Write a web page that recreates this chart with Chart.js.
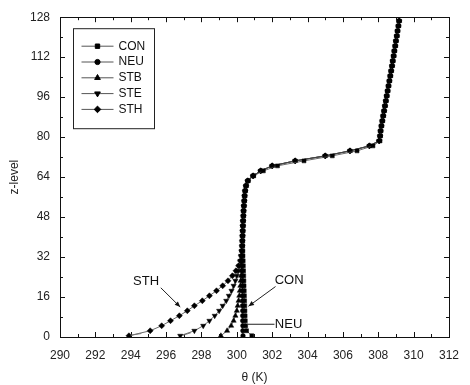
<!DOCTYPE html>
<html>
<head>
<meta charset="utf-8">
<script src="https://cdn.jsdelivr.net/npm/chart.js@4/dist/chart.umd.min.js"></script>
<style>
html,body{margin:0;padding:0;background:#fff;}
canvas{display:block;}
</style>
</head>
<body>
<canvas id="c" width="470" height="385"></canvas>
<script>
// vertical model levels (z-level of each plotted point)
const zLevels = [0.5,2.5,4.5,6.5,8.5,10.5,12.5,14.5,16.5,18.5,20.5,22.5,24.5,26.5,28.5,30.5,32.5,34.5,
  36.5,38.5,40.5,42.5,44.5,46.5,48.5,50.5,52.5,54.5,56.5,58.5,60.5,62.5,64.5,66.5,68.5,70.5,72.5,74.5,76.5,78.5,
  80.5,82.5,84.5,86.5,88.5,90.5,92.5,94.5,96.5,98.5,100.5,102.5,104.5,106.5,108.5,110.5,112.5,114.5,116.5,118.5,120.5,122.5,124.5,126.5];

// potential temperature theta (K) for each case
const thetaCON = [300.85,300.55,300.50,300.48,300.47,300.46,300.45,300.44,300.43,300.42,300.41,300.40,300.39,300.38,300.37,300.36,300.35,300.34,
  300.33,300.33,300.34,300.35,300.36,300.37,300.38,300.39,300.41,300.43,300.45,300.48,300.53,300.64,300.95,301.50,302.30,303.80,305.40,306.80,307.70,308.10,
  308.12,308.14,308.18,308.23,308.28,308.33,308.38,308.43,308.48,308.53,308.58,308.63,308.68,308.73,308.78,308.82,308.87,308.91,308.96,309.00,309.05,309.09,309.14,309.18];
const thetaNEU = [300.35,300.34,300.34,300.33,300.33,300.33,300.32,300.32,300.32,300.31,300.31,300.31,300.30,300.30,300.30,300.30,300.30,300.30,
  300.30,300.31,300.32,300.33,300.34,300.35,300.37,300.38,300.40,300.42,300.44,300.47,300.52,300.62,300.92,301.35,302.00,303.30,305.00,306.40,307.50,308.05,
  308.10,308.13,308.18,308.23,308.28,308.33,308.38,308.43,308.48,308.53,308.58,308.63,308.68,308.73,308.78,308.82,308.87,308.91,308.96,309.00,309.05,309.09,309.14,309.18];
const thetaSTB = [299.10,299.45,299.68,299.82,299.92,300.00,300.05,300.10,300.14,300.17,300.20,300.22,300.24,300.25,300.26,300.27,300.28,300.29,
  300.30,300.31,300.32,300.33,300.34,300.35,300.37,300.38,300.40,300.42,300.44,300.47,300.52,300.62,300.92,301.35,302.00,303.30,305.00,306.40,307.50,308.05,
  308.10,308.13,308.18,308.23,308.28,308.33,308.38,308.43,308.48,308.53,308.58,308.63,308.68,308.73,308.78,308.82,308.87,308.91,308.96,309.00,309.05,309.09,309.14,309.18];
const thetaSTE = [296.80,297.60,298.10,298.45,298.75,299.00,299.20,299.40,299.55,299.70,299.82,299.92,300.00,300.08,300.14,300.20,300.24,300.27,
  300.30,300.31,300.32,300.33,300.34,300.35,300.37,300.38,300.40,300.42,300.44,300.47,300.52,300.62,300.92,301.35,302.00,303.30,305.00,306.40,307.50,308.05,
  308.10,308.13,308.18,308.23,308.28,308.33,308.38,308.43,308.48,308.53,308.58,308.63,308.68,308.73,308.78,308.82,308.87,308.91,308.96,309.00,309.05,309.09,309.14,309.18];
const thetaSTH = [293.90,295.10,295.75,296.25,296.75,297.20,297.60,298.05,298.45,298.85,299.20,299.50,299.75,299.95,300.10,300.20,300.25,300.28,
  300.30,300.31,300.32,300.33,300.34,300.35,300.37,300.38,300.40,300.42,300.44,300.47,300.52,300.62,300.92,301.35,302.00,303.30,305.00,306.40,307.50,308.05,
  308.10,308.13,308.18,308.23,308.28,308.33,308.38,308.43,308.48,308.53,308.58,308.63,308.68,308.73,308.78,308.82,308.87,308.91,308.96,309.00,309.05,309.09,309.14,309.18];

const seriesNames = ['CON','NEU','STB','STE','STH'];
const seriesTheta = [thetaCON, thetaNEU, thetaSTB, thetaSTE, thetaSTH];
const markerStyles = ['rect','circle','triangle','triangle','rectRot'];
const markerRot = [0,0,0,180,0];
const markerRadius = [2.8,2.3,3,3,3];

const xTickMin = 290, xTickMax = 312, xTickStep = 2;
const yTickMin = 0, yTickMax = 128, yTickStep = 16;

const FONT = '"Liberation Sans", Arial, sans-serif';

const datasets = seriesNames.map((name, s) => ({
  label: name,
  data: zLevels.map((z, i) => ({x: seriesTheta[s][i], y: z})),
  showLine: true,
  borderColor: '#444',
  borderWidth: 0.8,
  backgroundColor: '#000',
  pointBackgroundColor: '#000',
  pointBorderColor: '#000',
  pointBorderWidth: 0.5,
  pointStyle: markerStyles[s],
  pointRotation: markerRot[s],
  pointRadius: markerRadius[s],
  pointHoverRadius: markerRadius[s]
}));

function arrow(ctx, x1, y1, x2, y2) {
  ctx.beginPath(); ctx.moveTo(x1, y1); ctx.lineTo(x2, y2); ctx.stroke();
  const ang = Math.atan2(y2 - y1, x2 - x1), L = 6, W = 0.4;
  ctx.beginPath();
  ctx.moveTo(x2, y2);
  ctx.lineTo(x2 - L * Math.cos(ang - W), y2 - L * Math.sin(ang - W));
  ctx.lineTo(x2 - L * Math.cos(ang + W), y2 - L * Math.sin(ang + W));
  ctx.closePath(); ctx.fill();
}

const framePlugin = {
  id: 'frame',
  afterDraw(chart) {
    const {ctx, chartArea: a, scales: {x, y}} = chart;
    ctx.save();
    ctx.strokeStyle = '#111';
    ctx.fillStyle = '#111';
    ctx.lineWidth = 1;
    ctx.strokeRect(Math.round(a.left) + 0.5, Math.round(a.top) + 0.5, Math.round(a.right - a.left), Math.round(a.bottom - a.top));
    // inward ticks
    for (let v = xTickMin; v <= xTickMax; v += xTickStep / 2) {
      const px = Math.round(x.getPixelForValue(v)) + 0.5;
      const len = ((v - xTickMin) % xTickStep === 0) ? 5 : 3;
      ctx.beginPath();
      ctx.moveTo(px, a.bottom); ctx.lineTo(px, a.bottom - len);
      ctx.moveTo(px, a.top); ctx.lineTo(px, a.top + len);
      ctx.stroke();
    }
    for (let v = yTickMin; v <= yTickMax; v += yTickStep / 2) {
      const py = Math.round(y.getPixelForValue(v)) + 0.5;
      const len = ((v - yTickMin) % yTickStep === 0) ? 5 : 3;
      ctx.beginPath();
      ctx.moveTo(a.left, py); ctx.lineTo(a.left + len, py);
      ctx.moveTo(a.right, py); ctx.lineTo(a.right - len, py);
      ctx.stroke();
    }
    // axis titles
    ctx.fillStyle = '#222';
    ctx.font = '12px ' + FONT;
    ctx.textAlign = 'center';
    ctx.textBaseline = 'middle';
    ctx.fillText('\u03B8 (K)', (a.left + a.right) / 2, a.bottom + 41);
    ctx.save();
    ctx.translate(a.left - 45, (a.top + a.bottom) / 2);
    ctx.rotate(-Math.PI / 2);
    ctx.fillText('z-level', 0, 0);
    ctx.restore();

    // annotations (data coordinates)
    const X = v => x.getPixelForValue(v), Y = v => y.getPixelForValue(v);
    ctx.font = '13px ' + FONT;
    ctx.fillStyle = '#111';
    ctx.strokeStyle = '#222';
    ctx.lineWidth = 1;
    ctx.fillText('STH', X(294.87), Y(22.3));
    arrow(ctx, X(295.7), Y(19.7), X(296.8), Y(12.0));
    ctx.fillText('CON', X(302.96), Y(22.6));
    arrow(ctx, X(302.19), Y(20.2), X(300.66), Y(12.3));
    ctx.textAlign = 'left';
    ctx.fillText('NEU', X(302.15), Y(4.9));
    ctx.beginPath(); ctx.moveTo(X(300.62), Y(5.1)); ctx.lineTo(X(302.13), Y(5.1)); ctx.stroke();
    ctx.strokeStyle = '#777';
    ctx.beginPath();
    ctx.moveTo(X(294.0), Y(0.7)); ctx.lineTo(X(294.6), Y(1.4));
    ctx.moveTo(X(296.95), Y(0.7)); ctx.lineTo(X(297.4), Y(1.7));
    ctx.stroke();

    // legend box
    const lx = a.left + 13.5, ly = a.top + 11.5, lw = 81, lh = 100;
    ctx.strokeStyle = '#222';
    ctx.strokeRect(lx, ly, lw, lh);
    ctx.font = '12px ' + FONT;
    ctx.textAlign = 'left';
    ctx.textBaseline = 'middle';
    seriesNames.forEach((name, i) => {
      const yy = ly + 17.5 + i * 15.8;
      ctx.strokeStyle = '#555';
      ctx.lineWidth = 1;
      ctx.beginPath(); ctx.moveTo(lx + 8, yy); ctx.lineTo(lx + 40, yy); ctx.stroke();
      ctx.fillStyle = '#000';
      ctx.strokeStyle = '#000';
      Chart.helpers.drawPoint(ctx, {pointStyle: markerStyles[i], rotation: markerRot[i], radius: markerRadius[i] + 0.3, borderWidth: 0.5}, lx + 24, yy);
      ctx.fillStyle = '#111';
      ctx.fillText(name, lx + 45, yy);
    });
    ctx.restore();
  }
};

new Chart(document.getElementById('c'), {
  type: 'scatter',
  data: {datasets},
  plugins: [framePlugin],
  options: {
    responsive: false,
    animation: false,
    layout: {padding: {top: 14, right: 11, left: 0, bottom: 0}},
    plugins: {legend: {display: false}, tooltip: {enabled: false}},
    scales: {
      x: {
        type: 'linear', min: xTickMin, max: xTickMax,
        grid: {display: false, drawTicks: false},
        border: {display: false},
        ticks: {stepSize: xTickStep, padding: 11, color: '#222', font: {family: FONT, size: 12}, maxRotation: 0},
        afterFit(s) { s.height = 48; }
      },
      y: {
        type: 'linear', min: yTickMin, max: yTickMax,
        grid: {display: false, drawTicks: false},
        border: {display: false},
        ticks: {stepSize: yTickStep, padding: 10, color: '#222', font: {family: FONT, size: 12}},
        afterFit(s) { s.width = 60; }
      }
    }
  }
});
</script>
</body>
</html>
